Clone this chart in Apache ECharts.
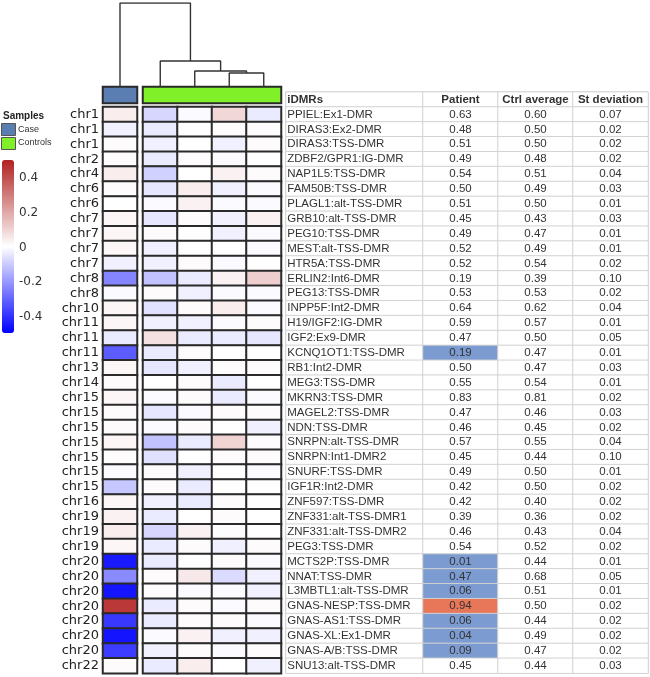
<!DOCTYPE html>
<html>
<head>
<meta charset="utf-8">
<script src="https://cdn.jsdelivr.net/npm/echarts@6/dist/echarts.min.js"></script>
<style>html,body{margin:0;padding:0;background:#fff}#c{width:650px;height:677px}</style>
</head>
<body>
<div id="c"></div>
<script>
// ---------------- data ----------------
const chrLabels = ['chr1','chr1','chr1','chr2','chr4','chr6','chr6','chr7','chr7','chr7','chr7','chr8','chr8','chr10','chr11','chr11','chr11','chr13','chr14','chr15','chr15','chr15','chr15','chr15','chr15','chr15','chr16','chr19','chr19','chr19','chr20','chr20','chr20','chr20','chr20','chr20','chr20','chr22'];
const idmrs = ['PPIEL:Ex1-DMR','DIRAS3:Ex2-DMR','DIRAS3:TSS-DMR','ZDBF2/GPR1:IG-DMR','NAP1L5:TSS-DMR','FAM50B:TSS-DMR','PLAGL1:alt-TSS-DMR','GRB10:alt-TSS-DMR','PEG10:TSS-DMR','MEST:alt-TSS-DMR','HTR5A:TSS-DMR','ERLIN2:Int6-DMR','PEG13:TSS-DMR','INPP5F:Int2-DMR','H19/IGF2:IG-DMR','IGF2:Ex9-DMR','KCNQ1OT1:TSS-DMR','RB1:Int2-DMR','MEG3:TSS-DMR','MKRN3:TSS-DMR','MAGEL2:TSS-DMR','NDN:TSS-DMR','SNRPN:alt-TSS-DMR','SNRPN:Int1-DMR2','SNURF:TSS-DMR','IGF1R:Int2-DMR','ZNF597:TSS-DMR','ZNF331:alt-TSS-DMR1','ZNF331:alt-TSS-DMR2','PEG3:TSS-DMR','MCTS2P:TSS-DMR','NNAT:TSS-DMR','L3MBTL1:alt-TSS-DMR','GNAS-NESP:TSS-DMR','GNAS-AS1:TSS-DMR','GNAS-XL:Ex1-DMR','GNAS-A/B:TSS-DMR','SNU13:alt-TSS-DMR'];
const patient = [0.63,0.48,0.51,0.49,0.54,0.50,0.51,0.45,0.49,0.52,0.52,0.19,0.53,0.64,0.59,0.47,0.19,0.50,0.55,0.83,0.47,0.46,0.57,0.45,0.49,0.42,0.42,0.39,0.46,0.54,0.01,0.47,0.06,0.94,0.06,0.04,0.09,0.45];
const ctrlAverage = [0.60,0.50,0.50,0.48,0.51,0.49,0.50,0.43,0.47,0.49,0.54,0.39,0.53,0.62,0.57,0.50,0.47,0.47,0.54,0.81,0.46,0.45,0.55,0.44,0.50,0.50,0.40,0.36,0.43,0.52,0.44,0.68,0.51,0.50,0.44,0.49,0.47,0.44];
const stDeviation = [0.07,0.02,0.02,0.02,0.04,0.03,0.01,0.03,0.01,0.01,0.02,0.10,0.02,0.04,0.01,0.05,0.01,0.03,0.01,0.02,0.03,0.02,0.04,0.10,0.01,0.02,0.02,0.02,0.04,0.02,0.01,0.05,0.01,0.02,0.02,0.02,0.02,0.03];
// patient cell highlight: 'low' blue, 'high' orange
const patientFlag = ['','','','','','','','','','','','','','','','','low','','','','','','','','','','','','','','low','low','low','high','low','low','low',''];
const tableHeaders = ['iDMRs','Patient','Ctrl average','St deviation'];

// heatmap values (colour scale -0.5 .. 0.5)
const caseValues = [0.04,-0.03,0.01,0.01,0.04,0.01,0,0.02,0.02,0.02,-0.03,-0.24,-0.01,0.02,0.02,-0.04,-0.32,0.02,0.01,0.02,0.01,0.01,0.02,0.01,-0.01,-0.11,0.02,0.03,0.04,0.02,-0.45,-0.23,-0.46,0.45,-0.39,-0.46,-0.38,0.01];
const control1 = [-0.08,-0.04,-0.03,-0.04,-0.09,-0.05,-0.01,-0.05,0.01,-0.03,-0.03,-0.12,0.01,-0.06,-0.03,0.07,-0.04,-0.05,0,-0.01,-0.05,-0.01,-0.12,-0.06,0.01,0.01,-0.03,-0.04,-0.08,-0.04,-0.04,0.01,0.01,-0.04,-0.04,-0.01,-0.03,-0.04];
const control2 = [-0.01,0,0,0.01,0,0.04,0.03,0.01,0,0,0.01,-0.04,-0.03,0.01,-0.03,-0.04,0.01,-0.03,0.01,0.01,-0.01,0.01,-0.04,0,-0.03,-0.04,-0.04,0,0.03,0.01,0,0.05,-0.01,0.01,0.01,0.03,0.01,0.04];
const control3 = [0.09,0.01,-0.03,-0.01,0.03,-0.03,-0.01,-0.03,-0.03,0,-0.01,0.03,-0.01,0.04,-0.01,-0.04,0,0.01,-0.04,-0.04,0.01,0,0.10,0.01,0,0,0.01,0.01,0.01,-0.03,0.01,-0.07,-0.01,-0.01,0.01,-0.03,-0.01,0];
const control4 = [-0.04,0.01,0.01,0,0.01,-0.01,-0.01,0.03,-0.01,-0.01,0,0.11,-0.01,-0.01,0.01,-0.05,0,0.01,0,-0.01,0.01,-0.03,0.01,0.01,-0.01,0,0,0,0,0.01,-0.01,-0.03,-0.03,0.01,-0.01,-0.03,0.01,-0.03];
const sampleGroups = ['Case','Controls'];
const controlNames = ['C1','C2','C3','C4'];
// dendrogram: leaves 0=Case,1..4=controls; merges create nodes 5,6,7,8
const dendroMerges = [[3,4],[2,5],[1,6],[0,7]];
const dendroHeights = [14,16,26,84];
const colorTicks = {min:-0.4, max:0.4, step:0.2};

// ---------------- layout ----------------
const CASE_L = 103, CASE_W = 34, GAP = 6, CTRL_W = 138;
const HEAT_TOP = 107, ROW_H = 14.9;
const ANNOT_TOP = 87, ANNOT_H = 16;
const TABLE_L = 286, NAME_W = 137, NUM_W = 225;
const n = chrLabels.length;
const HEAT_H = n * ROW_H;
const TABLE_TOP = HEAT_TOP - ROW_H;
const TABLE_H = (n + 1) * ROW_H;
const TOTAL_W = CASE_W + GAP + CTRL_W;

const caseColor = '#5a7db2', ctrlColor = '#80f028';
const border = '#2a2a2a';
const tFont = 'Liberation Sans, Arial, sans-serif';

// dendrogram geometry from tree structure
const nodeX = [CASE_W/2];
for (let i=0;i<4;i++) nodeX.push(CASE_W + GAP + CTRL_W/4*(i+0.5));
const nodeH = [0,0,0,0,0];
const dendroSeries = dendroMerges.map((m, k) => {
  const [a,b] = m;
  const h = dendroHeights[k];
  nodeX.push((nodeX[a]+nodeX[b])/2);
  nodeH.push(h);
  return {
    type:'line', xAxisIndex:0, yAxisIndex:0, symbol:'none', silent:true,
    lineStyle:{color:'#333', width:1.4},
    data:[[nodeX[a],nodeH[a]],[nodeX[a],h],[nodeX[b],h],[nodeX[b],nodeH[b]]]
  };
});

const rowIdx = chrLabels.map((_,i)=>i);
const caseData = caseValues.map((v,i)=>[0,i,v]);
const controls = [control1,control2,control3,control4];
const ctrlData = [];
controls.forEach((arr,c)=>arr.forEach((v,i)=>ctrlData.push([c,i,v])));

// table
const tableRows = ['h'].concat(rowIdx.map(String));
const nameData = [{name:tableHeaders[0], value:[0,0,0], label:{fontWeight:'bold'}}]
  .concat(idmrs.map((s,i)=>({name:s, value:[0,i+1,0]})));
const numCols = [patient, ctrlAverage, stDeviation];
const numData = [];
for (let c=0;c<3;c++) {
  numData.push({name:tableHeaders[c+1], value:[c,0,0], label:{fontWeight:'bold'}});
  numCols[c].forEach((v,i)=>{
    const item = {name:v.toFixed(2), value:[c,i+1,v]};
    if (c===0 && patientFlag[i]) item.itemStyle = {color: patientFlag[i]==='low' ? '#7c9bd1' : '#e8775a'};
    numData.push(item);
  });
}

const hidden = {show:false};
const catAxis = (gi, data, extra) => Object.assign({type:'category', gridIndex:gi, data:data, axisLine:hidden, axisTick:hidden, axisLabel:hidden, splitLine:hidden}, extra||{});

const option = {
  animation:false,
  backgroundColor:'#fff',
  grid:[
    {left:CASE_L, top:3, width:TOTAL_W, height:ANNOT_TOP-3},
    {left:CASE_L, top:ANNOT_TOP, width:CASE_W, height:ANNOT_H},
    {left:CASE_L+CASE_W+GAP, top:ANNOT_TOP, width:CTRL_W, height:ANNOT_H},
    {left:CASE_L, top:HEAT_TOP, width:CASE_W, height:HEAT_H},
    {left:CASE_L+CASE_W+GAP, top:HEAT_TOP, width:CTRL_W, height:HEAT_H},
    {left:TABLE_L, top:TABLE_TOP, width:NAME_W, height:TABLE_H, show:true, borderColor:'#bdbdbd', borderWidth:1},
    {left:TABLE_L+NAME_W, top:TABLE_TOP, width:NUM_W, height:TABLE_H, show:true, borderColor:'#bdbdbd', borderWidth:1},
    {left:16, top:178, width:1, height:139}
  ],
  xAxis:[
    {type:'value', gridIndex:0, min:0, max:TOTAL_W, show:false},
    catAxis(1,[sampleGroups[0]]),
    catAxis(2,[sampleGroups[1]]),
    catAxis(3,['Case']),
    catAxis(4,controlNames),
    catAxis(5,[tableHeaders[0]]),
    catAxis(6,tableHeaders.slice(1)),
    {type:'value', gridIndex:7, show:false}
  ],
  yAxis:[
    {type:'value', gridIndex:0, min:0, max:dendroHeights[dendroHeights.length-1], show:false},
    catAxis(1,['a']),
    catAxis(2,['a']),
    catAxis(3,rowIdx, {inverse:true, axisLabel:{show:true, interval:0, margin:4, fontFamily:'DejaVu Sans', fontSize:13, color:'#222', formatter:(v)=>chrLabels[+v]}}),
    catAxis(4,rowIdx, {inverse:true}),
    catAxis(5,tableRows, {inverse:true}),
    catAxis(6,tableRows, {inverse:true}),
    {type:'value', gridIndex:7, min:colorTicks.min, max:colorTicks.max, interval:colorTicks.step,
     axisLine:hidden, axisTick:hidden, splitLine:hidden,
     axisLabel:{inside:true, margin:3, fontFamily:'DejaVu Sans', fontSize:12, color:'#333',
       formatter:(v)=> Math.abs(v)<1e-9 ? '0' : v.toFixed(1)}}
  ],
  visualMap:{
    type:'continuous', seriesIndex:[6,7], min:-0.5, max:0.5, calculable:false,
    orient:'vertical', left:2, top:160, itemWidth:12, itemHeight:173, padding:0,
    inRange:{color:['#0000ff','#ffffff','#b22222']}
  },
  graphic:[
    {type:'text', left:3, top:111, style:{text:'Samples', font:'bold 10px '+tFont, fill:'#222'}},
    {type:'rect', left:1, top:123, shape:{width:14, height:12}, style:{fill:caseColor, stroke:'#555', lineWidth:1}},
    {type:'rect', left:1, top:137, shape:{width:14, height:12}, style:{fill:ctrlColor, stroke:'#555', lineWidth:1}},
    {type:'text', left:18, top:125, style:{text:sampleGroups[0], font:'9px '+tFont, fill:'#333'}},
    {type:'text', left:18, top:138, style:{text:sampleGroups[1], font:'9px '+tFont, fill:'#333'}}
  ],
  series: dendroSeries.concat([
    {type:'heatmap', xAxisIndex:1, yAxisIndex:1, silent:true, data:[[0,0,1]], itemStyle:{color:caseColor, borderColor:border, borderWidth:2}},
    {type:'heatmap', xAxisIndex:2, yAxisIndex:2, silent:true, data:[[0,0,1]], itemStyle:{color:ctrlColor, borderColor:border, borderWidth:2}},
    {type:'heatmap', xAxisIndex:3, yAxisIndex:3, silent:true, data:caseData, itemStyle:{borderColor:border, borderWidth:2}},
    {type:'heatmap', xAxisIndex:4, yAxisIndex:4, silent:true, data:ctrlData, itemStyle:{borderColor:border, borderWidth:2}},
    {type:'heatmap', xAxisIndex:5, yAxisIndex:5, silent:true, data:nameData,
     itemStyle:{color:'#fff', borderColor:'#d2d2d2', borderWidth:1},
     label:{show:true, position:'insideLeft', distance:2, formatter:(p)=>p.name, fontFamily:tFont, fontSize:11.5, color:'#333'}},
    {type:'heatmap', xAxisIndex:6, yAxisIndex:6, silent:true, data:numData,
     itemStyle:{color:'#fff', borderColor:'#d2d2d2', borderWidth:1},
     label:{show:true, formatter:(p)=>p.name, fontFamily:tFont, fontSize:11.5, color:'#333'}}
  ])
};
const chart = echarts.init(document.getElementById('c'));
chart.setOption(option);
</script>
</body>
</html>
